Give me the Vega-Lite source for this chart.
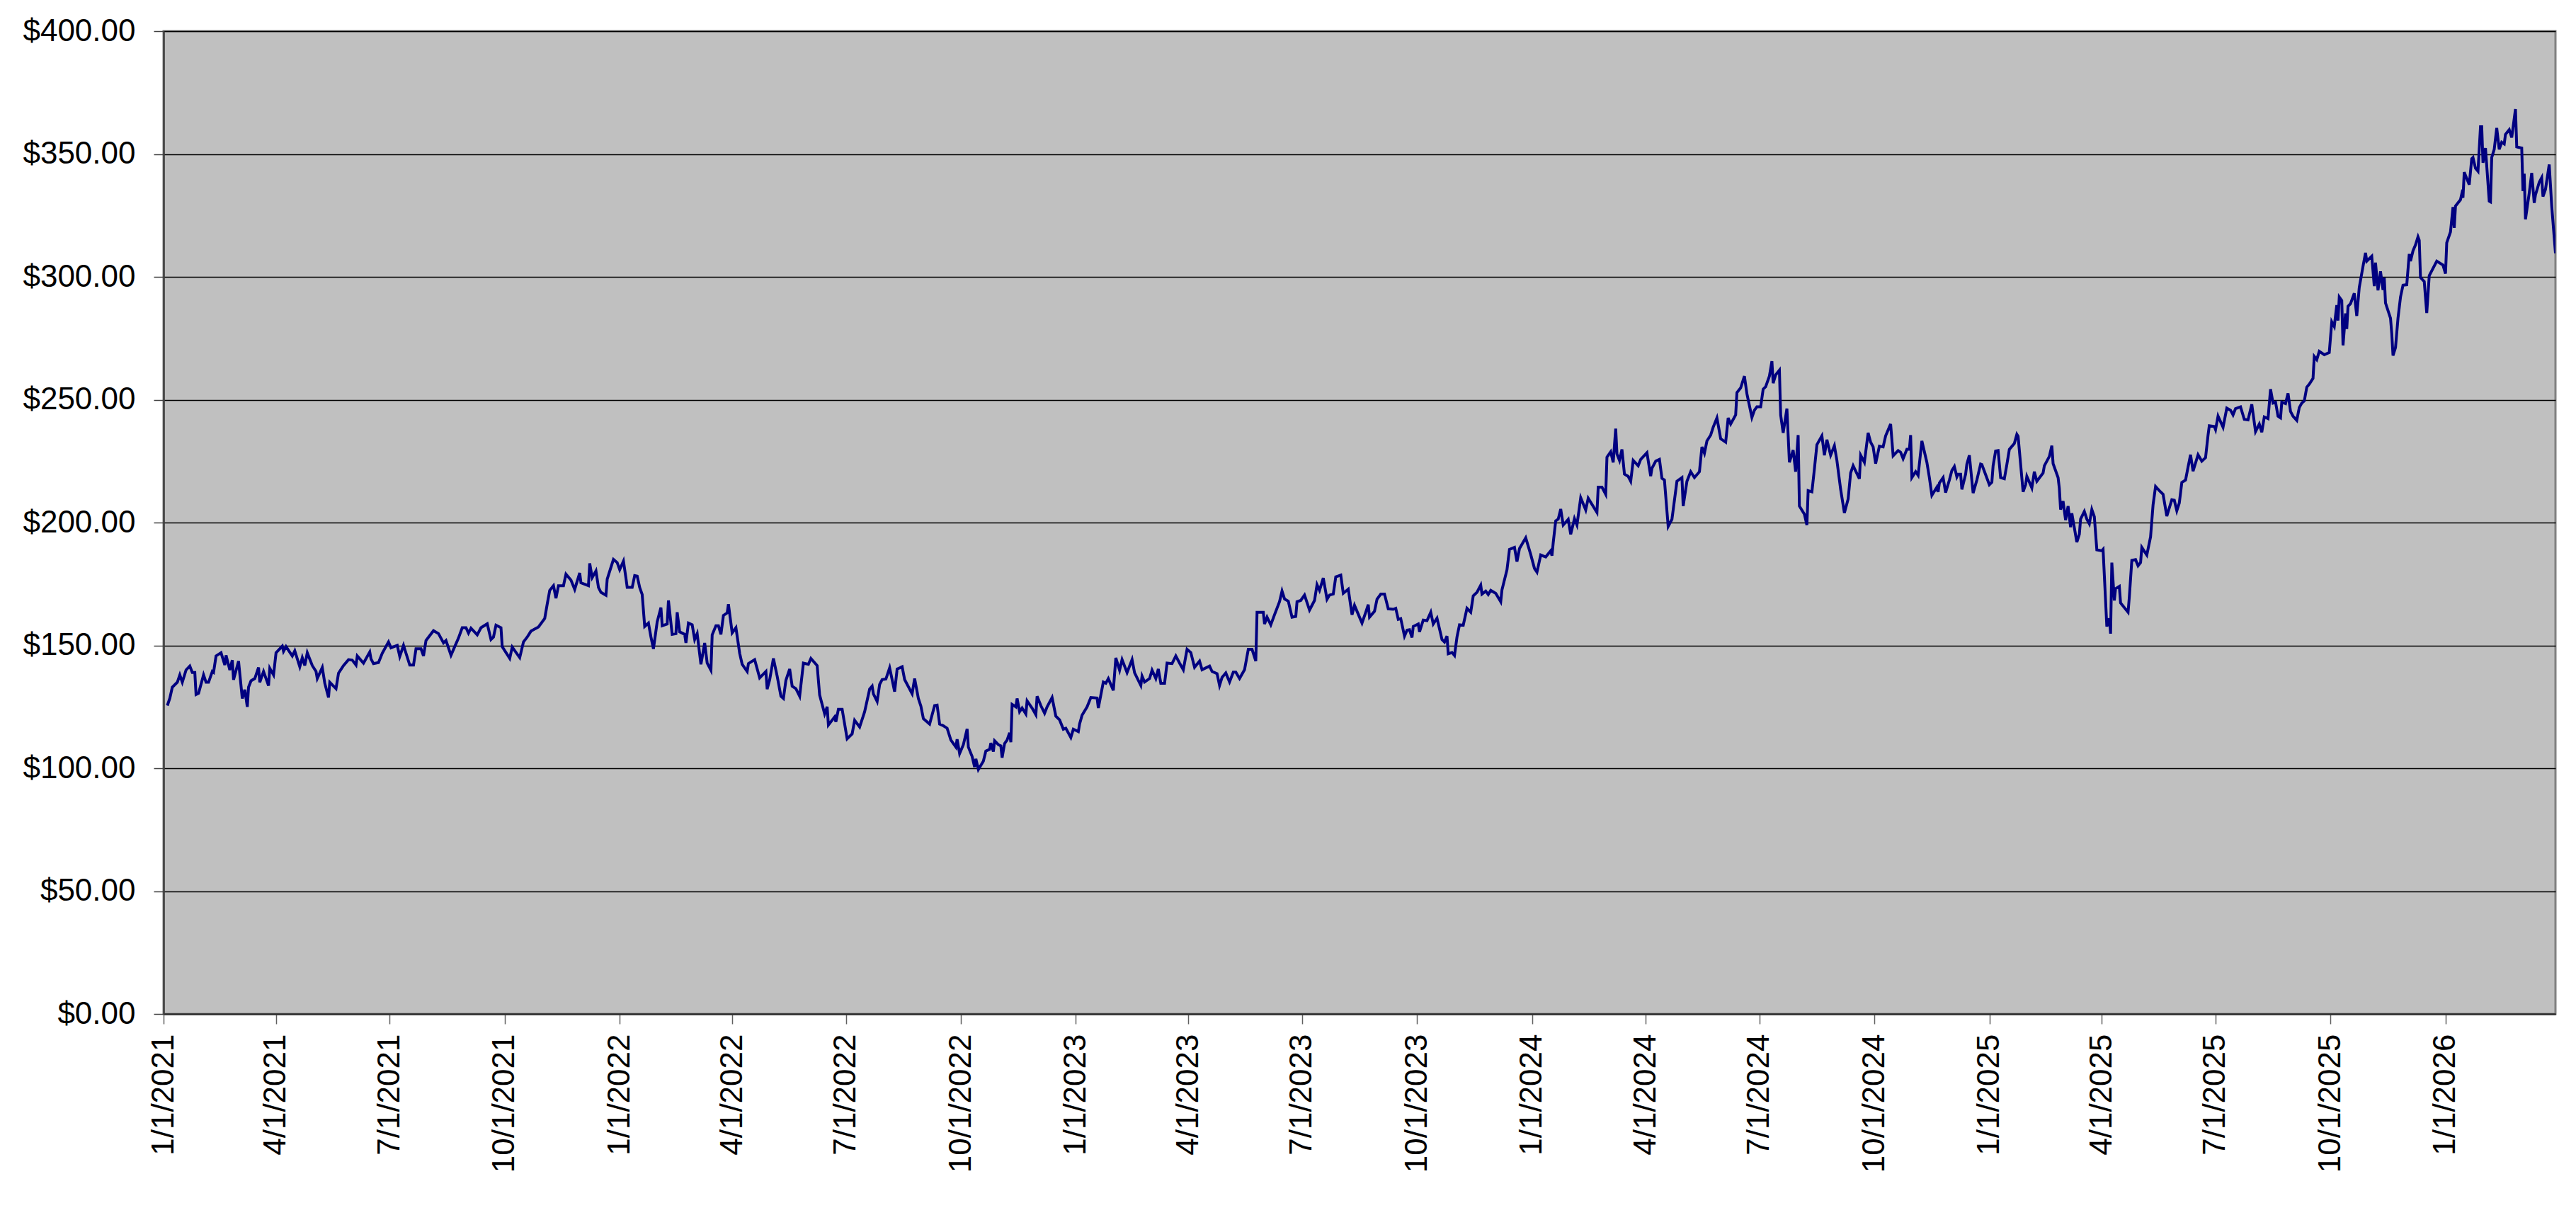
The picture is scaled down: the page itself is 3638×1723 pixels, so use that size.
{
  "$schema": "https://vega.github.io/schema/vega-lite/v6.json",
  "width": 3378,
  "height": 1388,
  "autosize": {"type": "none"},
  "padding": {"left": 231, "top": 44, "right": 29, "bottom": 291},
  "background": "#ffffff",
  "config": {
    "view": {"fill": "#C0C0C0", "stroke": "#808080", "strokeWidth": 3},
    "font": "Liberation Sans",
    "axis": {
      "labelFont": "Liberation Sans",
      "labelFontSize": 44,
      "labelColor": "#000000",
      "labelLimit": 0,
      "title": null
    }
  },
  "data": {
    "values": [
      {"date": "2021-01-04", "close": 125.5},
      {"date": "2021-01-06", "close": 128.5},
      {"date": "2021-01-08", "close": 133},
      {"date": "2021-01-12", "close": 135},
      {"date": "2021-01-14", "close": 138},
      {"date": "2021-01-16", "close": 135},
      {"date": "2021-01-19", "close": 140},
      {"date": "2021-01-22", "close": 141.6},
      {"date": "2021-01-24", "close": 139},
      {"date": "2021-01-26", "close": 139},
      {"date": "2021-01-27", "close": 130},
      {"date": "2021-01-29", "close": 130.5},
      {"date": "2021-02-02", "close": 138},
      {"date": "2021-02-04", "close": 135},
      {"date": "2021-02-06", "close": 135},
      {"date": "2021-02-09", "close": 139.4},
      {"date": "2021-02-10", "close": 139},
      {"date": "2021-02-12", "close": 145.7},
      {"date": "2021-02-16", "close": 147},
      {"date": "2021-02-19", "close": 142},
      {"date": "2021-02-20", "close": 146},
      {"date": "2021-02-23", "close": 140},
      {"date": "2021-02-25", "close": 144},
      {"date": "2021-02-26", "close": 136},
      {"date": "2021-03-02", "close": 143.6},
      {"date": "2021-03-05", "close": 128.4},
      {"date": "2021-03-07", "close": 132},
      {"date": "2021-03-09", "close": 125},
      {"date": "2021-03-10", "close": 133},
      {"date": "2021-03-12", "close": 135.6},
      {"date": "2021-03-15", "close": 136.5},
      {"date": "2021-03-18", "close": 141},
      {"date": "2021-03-19", "close": 135},
      {"date": "2021-03-22", "close": 139.4},
      {"date": "2021-03-26", "close": 133.6},
      {"date": "2021-03-27", "close": 140.7},
      {"date": "2021-03-30", "close": 138},
      {"date": "2021-04-01", "close": 147},
      {"date": "2021-04-06", "close": 149.7},
      {"date": "2021-04-07", "close": 147.6},
      {"date": "2021-04-09", "close": 149.5},
      {"date": "2021-04-14", "close": 145.7},
      {"date": "2021-04-16", "close": 147.8},
      {"date": "2021-04-20", "close": 141.3},
      {"date": "2021-04-22", "close": 145},
      {"date": "2021-04-24", "close": 141.8},
      {"date": "2021-04-26", "close": 147},
      {"date": "2021-04-30", "close": 141.8},
      {"date": "2021-05-03", "close": 139.4},
      {"date": "2021-05-04", "close": 136.5},
      {"date": "2021-05-08", "close": 141},
      {"date": "2021-05-10", "close": 134.6},
      {"date": "2021-05-13", "close": 128.8},
      {"date": "2021-05-14", "close": 135},
      {"date": "2021-05-19", "close": 132.4},
      {"date": "2021-05-21", "close": 138.7},
      {"date": "2021-05-25", "close": 141.8},
      {"date": "2021-05-29", "close": 144.2},
      {"date": "2021-06-01", "close": 144},
      {"date": "2021-06-04", "close": 142},
      {"date": "2021-06-05", "close": 145.7},
      {"date": "2021-06-10", "close": 142.8},
      {"date": "2021-06-15", "close": 147.3},
      {"date": "2021-06-16", "close": 144.5},
      {"date": "2021-06-18", "close": 142.6},
      {"date": "2021-06-22", "close": 143},
      {"date": "2021-06-25", "close": 146.8},
      {"date": "2021-06-30", "close": 151.4},
      {"date": "2021-07-02", "close": 149},
      {"date": "2021-07-07", "close": 150},
      {"date": "2021-07-09", "close": 145.5},
      {"date": "2021-07-12", "close": 150},
      {"date": "2021-07-17", "close": 142},
      {"date": "2021-07-20", "close": 142},
      {"date": "2021-07-22", "close": 148.6},
      {"date": "2021-07-26", "close": 148.6},
      {"date": "2021-07-28", "close": 145.7},
      {"date": "2021-07-30", "close": 152},
      {"date": "2021-08-05", "close": 156},
      {"date": "2021-08-09", "close": 154.8},
      {"date": "2021-08-13", "close": 151},
      {"date": "2021-08-15", "close": 152},
      {"date": "2021-08-19", "close": 146},
      {"date": "2021-08-25", "close": 153},
      {"date": "2021-08-28", "close": 157.2},
      {"date": "2021-08-31", "close": 157.2},
      {"date": "2021-09-02", "close": 155},
      {"date": "2021-09-04", "close": 157},
      {"date": "2021-09-09", "close": 154.3},
      {"date": "2021-09-12", "close": 157.2},
      {"date": "2021-09-17", "close": 158.8},
      {"date": "2021-09-20", "close": 152.4},
      {"date": "2021-09-22", "close": 153.4},
      {"date": "2021-09-24", "close": 158.2},
      {"date": "2021-09-28", "close": 157.2},
      {"date": "2021-09-29", "close": 149.5},
      {"date": "2021-10-05", "close": 144.7},
      {"date": "2021-10-07", "close": 149.3},
      {"date": "2021-10-13", "close": 145},
      {"date": "2021-10-16", "close": 151.4},
      {"date": "2021-10-19", "close": 153.4},
      {"date": "2021-10-22", "close": 155.8},
      {"date": "2021-10-28", "close": 157.5},
      {"date": "2021-11-02", "close": 161},
      {"date": "2021-11-04", "close": 166.8},
      {"date": "2021-11-06", "close": 172.4},
      {"date": "2021-11-09", "close": 174.3},
      {"date": "2021-11-11", "close": 169.2},
      {"date": "2021-11-13", "close": 174.3},
      {"date": "2021-11-17", "close": 174.3},
      {"date": "2021-11-19", "close": 179},
      {"date": "2021-11-23", "close": 176.6},
      {"date": "2021-11-26", "close": 172.8},
      {"date": "2021-11-30", "close": 179.5},
      {"date": "2021-12-01", "close": 175.5},
      {"date": "2021-12-07", "close": 174.3},
      {"date": "2021-12-08", "close": 183.4},
      {"date": "2021-12-10", "close": 177.6},
      {"date": "2021-12-13", "close": 180.3},
      {"date": "2021-12-15", "close": 173.6},
      {"date": "2021-12-17", "close": 171.6},
      {"date": "2021-12-21", "close": 170.4},
      {"date": "2021-12-22", "close": 177},
      {"date": "2021-12-27", "close": 185},
      {"date": "2021-12-30", "close": 183.7},
      {"date": "2022-01-01", "close": 180.8},
      {"date": "2022-01-04", "close": 184.3},
      {"date": "2022-01-06", "close": 177.4},
      {"date": "2022-01-07", "close": 173.6},
      {"date": "2022-01-11", "close": 173.6},
      {"date": "2022-01-13", "close": 178.4},
      {"date": "2022-01-15", "close": 178.2},
      {"date": "2022-01-17", "close": 173.6},
      {"date": "2022-01-19", "close": 170.7},
      {"date": "2022-01-21", "close": 157.7},
      {"date": "2022-01-24", "close": 159.1},
      {"date": "2022-01-26", "close": 153.4},
      {"date": "2022-01-28", "close": 148.6},
      {"date": "2022-01-31", "close": 159.6},
      {"date": "2022-02-03", "close": 165.4},
      {"date": "2022-02-04", "close": 158},
      {"date": "2022-02-08", "close": 158.7},
      {"date": "2022-02-09", "close": 168.3},
      {"date": "2022-02-12", "close": 154.5},
      {"date": "2022-02-15", "close": 154.8},
      {"date": "2022-02-16", "close": 163.5},
      {"date": "2022-02-18", "close": 155.5},
      {"date": "2022-02-22", "close": 154.5},
      {"date": "2022-02-23", "close": 151},
      {"date": "2022-02-25", "close": 159.1},
      {"date": "2022-02-28", "close": 158.4},
      {"date": "2022-03-02", "close": 152.4},
      {"date": "2022-03-04", "close": 154.8},
      {"date": "2022-03-07", "close": 142.3},
      {"date": "2022-03-10", "close": 151},
      {"date": "2022-03-12", "close": 142.8},
      {"date": "2022-03-15", "close": 139.9},
      {"date": "2022-03-16", "close": 154.3},
      {"date": "2022-03-19", "close": 158},
      {"date": "2022-03-21", "close": 158},
      {"date": "2022-03-23", "close": 154.5},
      {"date": "2022-03-25", "close": 162.2},
      {"date": "2022-03-28", "close": 163.2},
      {"date": "2022-03-29", "close": 166.8},
      {"date": "2022-04-01", "close": 155.1},
      {"date": "2022-04-04", "close": 157.2},
      {"date": "2022-04-07", "close": 146.8},
      {"date": "2022-04-09", "close": 142.3},
      {"date": "2022-04-13", "close": 139.4},
      {"date": "2022-04-14", "close": 142.6},
      {"date": "2022-04-19", "close": 144.2},
      {"date": "2022-04-23", "close": 136.8},
      {"date": "2022-04-28", "close": 139.4},
      {"date": "2022-04-29", "close": 132.2},
      {"date": "2022-05-01", "close": 136},
      {"date": "2022-05-04", "close": 144.7},
      {"date": "2022-05-07", "close": 137.5},
      {"date": "2022-05-10", "close": 129.3},
      {"date": "2022-05-12", "close": 128.4},
      {"date": "2022-05-14", "close": 135.8},
      {"date": "2022-05-17", "close": 140.4},
      {"date": "2022-05-19", "close": 133.4},
      {"date": "2022-05-22", "close": 132.4},
      {"date": "2022-05-25", "close": 129.3},
      {"date": "2022-05-28", "close": 142.8},
      {"date": "2022-06-01", "close": 142.3},
      {"date": "2022-06-03", "close": 144.7},
      {"date": "2022-06-08", "close": 141.8},
      {"date": "2022-06-10", "close": 129.8},
      {"date": "2022-06-14", "close": 122.1},
      {"date": "2022-06-16", "close": 125},
      {"date": "2022-06-17", "close": 117.6},
      {"date": "2022-06-22", "close": 120.9},
      {"date": "2022-06-23", "close": 118.9},
      {"date": "2022-06-25", "close": 124},
      {"date": "2022-06-28", "close": 124},
      {"date": "2022-07-02", "close": 112},
      {"date": "2022-07-06", "close": 114},
      {"date": "2022-07-08", "close": 119.5},
      {"date": "2022-07-12", "close": 116.8},
      {"date": "2022-07-16", "close": 123},
      {"date": "2022-07-20", "close": 132.2},
      {"date": "2022-07-22", "close": 133.4},
      {"date": "2022-07-23", "close": 130.3},
      {"date": "2022-07-26", "close": 127.2},
      {"date": "2022-07-28", "close": 134.1},
      {"date": "2022-07-30", "close": 136.1},
      {"date": "2022-08-02", "close": 136.3},
      {"date": "2022-08-05", "close": 140.9},
      {"date": "2022-08-09", "close": 131.2},
      {"date": "2022-08-11", "close": 140.4},
      {"date": "2022-08-15", "close": 141.3},
      {"date": "2022-08-17", "close": 136.1},
      {"date": "2022-08-23", "close": 130.3},
      {"date": "2022-08-25", "close": 136.5},
      {"date": "2022-08-28", "close": 128.4},
      {"date": "2022-08-30", "close": 125.3},
      {"date": "2022-09-01", "close": 120.2},
      {"date": "2022-09-06", "close": 118},
      {"date": "2022-09-10", "close": 125.5},
      {"date": "2022-09-12", "close": 125.7},
      {"date": "2022-09-14", "close": 118},
      {"date": "2022-09-17", "close": 117.3},
      {"date": "2022-09-20", "close": 116.3},
      {"date": "2022-09-23", "close": 111.5},
      {"date": "2022-09-27", "close": 108.6},
      {"date": "2022-09-28", "close": 111.8},
      {"date": "2022-09-30", "close": 106},
      {"date": "2022-10-03", "close": 109.6},
      {"date": "2022-10-06", "close": 116},
      {"date": "2022-10-07", "close": 108.6},
      {"date": "2022-10-10", "close": 104.8},
      {"date": "2022-10-12", "close": 100.5},
      {"date": "2022-10-13", "close": 103.8},
      {"date": "2022-10-15", "close": 99.5},
      {"date": "2022-10-19", "close": 102.9},
      {"date": "2022-10-21", "close": 107},
      {"date": "2022-10-24", "close": 107.7},
      {"date": "2022-10-25", "close": 110.3},
      {"date": "2022-10-27", "close": 106.8},
      {"date": "2022-10-28", "close": 111.2},
      {"date": "2022-10-31", "close": 109.6},
      {"date": "2022-11-02", "close": 109.1},
      {"date": "2022-11-03", "close": 104.3},
      {"date": "2022-11-05", "close": 110.1},
      {"date": "2022-11-07", "close": 111.5},
      {"date": "2022-11-09", "close": 114.4},
      {"date": "2022-11-10", "close": 110.6},
      {"date": "2022-11-11", "close": 126},
      {"date": "2022-11-14", "close": 125},
      {"date": "2022-11-15", "close": 128.4},
      {"date": "2022-11-17", "close": 123},
      {"date": "2022-11-19", "close": 124.5},
      {"date": "2022-11-22", "close": 122.1},
      {"date": "2022-11-23", "close": 127.4},
      {"date": "2022-11-27", "close": 124.5},
      {"date": "2022-11-30", "close": 121.8},
      {"date": "2022-12-01", "close": 129.3},
      {"date": "2022-12-04", "close": 125.5},
      {"date": "2022-12-07", "close": 122.4},
      {"date": "2022-12-09", "close": 125},
      {"date": "2022-12-13", "close": 128.8},
      {"date": "2022-12-16", "close": 121.2},
      {"date": "2022-12-19", "close": 119.7},
      {"date": "2022-12-22", "close": 115.9},
      {"date": "2022-12-24", "close": 116.3},
      {"date": "2022-12-28", "close": 112.5},
      {"date": "2022-12-30", "close": 115.9},
      {"date": "2023-01-01", "close": 115.4},
      {"date": "2023-01-03", "close": 114.9},
      {"date": "2023-01-04", "close": 118},
      {"date": "2023-01-06", "close": 121.6},
      {"date": "2023-01-10", "close": 125},
      {"date": "2023-01-13", "close": 128.8},
      {"date": "2023-01-18", "close": 128.6},
      {"date": "2023-01-19", "close": 124.5},
      {"date": "2023-01-21", "close": 129.8},
      {"date": "2023-01-23", "close": 135.1},
      {"date": "2023-01-25", "close": 134.6},
      {"date": "2023-01-27", "close": 136.5},
      {"date": "2023-01-31", "close": 131.7},
      {"date": "2023-02-02", "close": 144.9},
      {"date": "2023-02-05", "close": 139.9},
      {"date": "2023-02-07", "close": 144.2},
      {"date": "2023-02-11", "close": 138.9},
      {"date": "2023-02-15", "close": 144.2},
      {"date": "2023-02-17", "close": 138.9},
      {"date": "2023-02-22", "close": 133.7},
      {"date": "2023-02-23", "close": 137.5},
      {"date": "2023-02-25", "close": 135.1},
      {"date": "2023-03-01", "close": 136.5},
      {"date": "2023-03-03", "close": 139.9},
      {"date": "2023-03-06", "close": 136.5},
      {"date": "2023-03-08", "close": 140.4},
      {"date": "2023-03-10", "close": 134.6},
      {"date": "2023-03-13", "close": 134.6},
      {"date": "2023-03-15", "close": 142.8},
      {"date": "2023-03-19", "close": 142.6},
      {"date": "2023-03-22", "close": 145.7},
      {"date": "2023-03-25", "close": 142.8},
      {"date": "2023-03-28", "close": 140.1},
      {"date": "2023-03-31", "close": 148.4},
      {"date": "2023-04-03", "close": 147.1},
      {"date": "2023-04-06", "close": 141.1},
      {"date": "2023-04-10", "close": 143.6},
      {"date": "2023-04-12", "close": 140.1},
      {"date": "2023-04-18", "close": 141.6},
      {"date": "2023-04-20", "close": 139.4},
      {"date": "2023-04-24", "close": 138.5},
      {"date": "2023-04-26", "close": 133.7},
      {"date": "2023-04-28", "close": 137},
      {"date": "2023-05-01", "close": 138.8},
      {"date": "2023-05-04", "close": 135.1},
      {"date": "2023-05-07", "close": 139.1},
      {"date": "2023-05-09", "close": 139.1},
      {"date": "2023-05-12", "close": 136.5},
      {"date": "2023-05-16", "close": 140.1},
      {"date": "2023-05-19", "close": 148.4},
      {"date": "2023-05-22", "close": 148.4},
      {"date": "2023-05-25", "close": 143.6},
      {"date": "2023-05-26", "close": 163.5},
      {"date": "2023-05-31", "close": 163.5},
      {"date": "2023-06-01", "close": 158.7},
      {"date": "2023-06-03", "close": 161.5},
      {"date": "2023-06-06", "close": 158.4},
      {"date": "2023-06-09", "close": 162.5},
      {"date": "2023-06-13", "close": 167.8},
      {"date": "2023-06-15", "close": 172.1},
      {"date": "2023-06-17", "close": 168.9},
      {"date": "2023-06-20", "close": 168},
      {"date": "2023-06-23", "close": 161.5},
      {"date": "2023-06-26", "close": 161.8},
      {"date": "2023-06-27", "close": 167.8},
      {"date": "2023-06-30", "close": 168.3},
      {"date": "2023-07-03", "close": 170.5},
      {"date": "2023-07-07", "close": 164.4},
      {"date": "2023-07-11", "close": 168.3},
      {"date": "2023-07-13", "close": 174.7},
      {"date": "2023-07-15", "close": 172.4},
      {"date": "2023-07-18", "close": 177.4},
      {"date": "2023-07-21", "close": 168.8},
      {"date": "2023-07-23", "close": 170.5},
      {"date": "2023-07-26", "close": 170.9},
      {"date": "2023-07-28", "close": 177.9},
      {"date": "2023-08-01", "close": 178.6},
      {"date": "2023-08-03", "close": 171.2},
      {"date": "2023-08-07", "close": 172.9},
      {"date": "2023-08-10", "close": 162.5},
      {"date": "2023-08-12", "close": 166.3},
      {"date": "2023-08-16", "close": 161.5},
      {"date": "2023-08-18", "close": 159.1},
      {"date": "2023-08-21", "close": 163.5},
      {"date": "2023-08-23", "close": 166.6},
      {"date": "2023-08-24", "close": 161.5},
      {"date": "2023-08-28", "close": 163.9},
      {"date": "2023-08-30", "close": 168.8},
      {"date": "2023-09-02", "close": 170.9},
      {"date": "2023-09-05", "close": 170.9},
      {"date": "2023-09-08", "close": 164.9},
      {"date": "2023-09-12", "close": 164.7},
      {"date": "2023-09-14", "close": 165.1},
      {"date": "2023-09-16", "close": 160.6},
      {"date": "2023-09-18", "close": 160.9},
      {"date": "2023-09-21", "close": 153.8},
      {"date": "2023-09-23", "close": 156.2},
      {"date": "2023-09-25", "close": 156.4},
      {"date": "2023-09-27", "close": 153.2},
      {"date": "2023-09-28", "close": 157.7},
      {"date": "2023-10-02", "close": 158.7},
      {"date": "2023-10-03", "close": 155.5},
      {"date": "2023-10-06", "close": 160.3},
      {"date": "2023-10-09", "close": 160.1},
      {"date": "2023-10-12", "close": 163.5},
      {"date": "2023-10-14", "close": 158.7},
      {"date": "2023-10-17", "close": 161.1},
      {"date": "2023-10-21", "close": 152.4},
      {"date": "2023-10-23", "close": 151.4},
      {"date": "2023-10-25", "close": 153.8},
      {"date": "2023-10-26", "close": 146.6},
      {"date": "2023-10-29", "close": 147.1},
      {"date": "2023-10-31", "close": 145.9},
      {"date": "2023-11-02", "close": 153.4},
      {"date": "2023-11-04", "close": 158.4},
      {"date": "2023-11-07", "close": 158.2},
      {"date": "2023-11-10", "close": 165.1},
      {"date": "2023-11-13", "close": 163.5},
      {"date": "2023-11-15", "close": 170.2},
      {"date": "2023-11-18", "close": 171.6},
      {"date": "2023-11-21", "close": 174.5},
      {"date": "2023-11-22", "close": 170.9},
      {"date": "2023-11-25", "close": 172.1},
      {"date": "2023-11-27", "close": 170.7},
      {"date": "2023-11-29", "close": 172.4},
      {"date": "2023-12-03", "close": 171.2},
      {"date": "2023-12-07", "close": 167.8},
      {"date": "2023-12-08", "close": 172.6},
      {"date": "2023-12-12", "close": 180.8},
      {"date": "2023-12-14", "close": 189.1},
      {"date": "2023-12-18", "close": 189.9},
      {"date": "2023-12-20", "close": 184.1},
      {"date": "2023-12-22", "close": 189.4},
      {"date": "2023-12-27", "close": 193.8},
      {"date": "2023-12-31", "close": 187},
      {"date": "2024-01-03", "close": 181.3},
      {"date": "2024-01-05", "close": 179.8},
      {"date": "2024-01-08", "close": 186.8},
      {"date": "2024-01-12", "close": 186},
      {"date": "2024-01-16", "close": 188.5},
      {"date": "2024-01-17", "close": 186.5},
      {"date": "2024-01-18", "close": 191.8},
      {"date": "2024-01-20", "close": 200.7},
      {"date": "2024-01-22", "close": 201.4},
      {"date": "2024-01-24", "close": 205.5},
      {"date": "2024-01-26", "close": 199},
      {"date": "2024-01-30", "close": 201.3},
      {"date": "2024-02-01", "close": 195.2},
      {"date": "2024-02-04", "close": 201.6},
      {"date": "2024-02-06", "close": 199},
      {"date": "2024-02-09", "close": 210.1},
      {"date": "2024-02-13", "close": 205.1},
      {"date": "2024-02-15", "close": 209.9},
      {"date": "2024-02-22", "close": 204.1},
      {"date": "2024-02-23", "close": 214.4},
      {"date": "2024-02-26", "close": 214.4},
      {"date": "2024-02-29", "close": 211.5},
      {"date": "2024-03-01", "close": 226.6},
      {"date": "2024-03-04", "close": 228.8},
      {"date": "2024-03-06", "close": 224.5},
      {"date": "2024-03-08", "close": 238.2},
      {"date": "2024-03-09", "close": 227.9},
      {"date": "2024-03-11", "close": 225.3},
      {"date": "2024-03-13", "close": 229.8},
      {"date": "2024-03-15", "close": 219.7},
      {"date": "2024-03-18", "close": 218.8},
      {"date": "2024-03-20", "close": 216.8},
      {"date": "2024-03-22", "close": 225.3},
      {"date": "2024-03-26", "close": 223.1},
      {"date": "2024-03-28", "close": 225.7},
      {"date": "2024-04-02", "close": 228.4},
      {"date": "2024-04-05", "close": 218.9},
      {"date": "2024-04-06", "close": 222.1},
      {"date": "2024-04-09", "close": 225},
      {"date": "2024-04-12", "close": 225.7},
      {"date": "2024-04-14", "close": 218},
      {"date": "2024-04-16", "close": 217.3},
      {"date": "2024-04-19", "close": 198.4},
      {"date": "2024-04-22", "close": 201.3},
      {"date": "2024-04-26", "close": 216.8},
      {"date": "2024-04-30", "close": 218.3},
      {"date": "2024-05-01", "close": 206.7},
      {"date": "2024-05-04", "close": 216.8},
      {"date": "2024-05-07", "close": 220.7},
      {"date": "2024-05-10", "close": 218.3},
      {"date": "2024-05-14", "close": 220.7},
      {"date": "2024-05-16", "close": 230.8},
      {"date": "2024-05-18", "close": 228.2},
      {"date": "2024-05-20", "close": 233.2},
      {"date": "2024-05-23", "close": 235.6},
      {"date": "2024-05-25", "close": 238.8},
      {"date": "2024-05-28", "close": 242.6},
      {"date": "2024-05-31", "close": 234.1},
      {"date": "2024-06-04", "close": 232.7},
      {"date": "2024-06-06", "close": 242.6},
      {"date": "2024-06-08", "close": 240.1},
      {"date": "2024-06-12", "close": 243.8},
      {"date": "2024-06-13", "close": 252.9},
      {"date": "2024-06-16", "close": 254.8},
      {"date": "2024-06-19", "close": 259.6},
      {"date": "2024-06-21", "close": 252.4},
      {"date": "2024-06-25", "close": 242.8},
      {"date": "2024-06-27", "close": 245.7},
      {"date": "2024-06-29", "close": 247.1},
      {"date": "2024-07-02", "close": 247.1},
      {"date": "2024-07-04", "close": 254.3},
      {"date": "2024-07-06", "close": 255.3},
      {"date": "2024-07-09", "close": 259.6},
      {"date": "2024-07-11", "close": 265.7},
      {"date": "2024-07-12", "close": 256.7},
      {"date": "2024-07-14", "close": 260.1},
      {"date": "2024-07-17", "close": 262},
      {"date": "2024-07-18", "close": 243.8},
      {"date": "2024-07-20", "close": 236.5},
      {"date": "2024-07-23", "close": 246.4},
      {"date": "2024-07-25", "close": 224.5},
      {"date": "2024-07-28", "close": 229.5},
      {"date": "2024-07-30", "close": 220.7},
      {"date": "2024-08-01", "close": 235.6},
      {"date": "2024-08-02", "close": 206.7},
      {"date": "2024-08-06", "close": 203.4},
      {"date": "2024-08-08", "close": 199},
      {"date": "2024-08-09", "close": 213},
      {"date": "2024-08-12", "close": 212.5},
      {"date": "2024-08-14", "close": 221.8},
      {"date": "2024-08-16", "close": 231.7},
      {"date": "2024-08-20", "close": 235.3},
      {"date": "2024-08-22", "close": 227.4},
      {"date": "2024-08-24", "close": 233.7},
      {"date": "2024-08-27", "close": 227.4},
      {"date": "2024-08-30", "close": 231.3},
      {"date": "2024-09-01", "close": 225.3},
      {"date": "2024-09-04", "close": 213.5},
      {"date": "2024-09-07", "close": 203.9},
      {"date": "2024-09-10", "close": 209.6},
      {"date": "2024-09-12", "close": 220.2},
      {"date": "2024-09-14", "close": 223.1},
      {"date": "2024-09-19", "close": 217.8},
      {"date": "2024-09-20", "close": 227.4},
      {"date": "2024-09-23", "close": 224.5},
      {"date": "2024-09-26", "close": 236.5},
      {"date": "2024-09-28", "close": 232.7},
      {"date": "2024-09-30", "close": 230.8},
      {"date": "2024-10-02", "close": 224},
      {"date": "2024-10-05", "close": 231.1},
      {"date": "2024-10-08", "close": 230.8},
      {"date": "2024-10-10", "close": 235.3},
      {"date": "2024-10-14", "close": 240.1},
      {"date": "2024-10-16", "close": 227.2},
      {"date": "2024-10-20", "close": 229.3},
      {"date": "2024-10-22", "close": 228.6},
      {"date": "2024-10-24", "close": 226},
      {"date": "2024-10-27", "close": 229.8},
      {"date": "2024-10-29", "close": 229.8},
      {"date": "2024-10-30", "close": 235.6},
      {"date": "2024-10-31", "close": 218.3},
      {"date": "2024-11-03", "close": 220.7},
      {"date": "2024-11-05", "close": 219.2},
      {"date": "2024-11-08", "close": 233.2},
      {"date": "2024-11-12", "close": 224.5},
      {"date": "2024-11-14", "close": 218.3},
      {"date": "2024-11-16", "close": 211.1},
      {"date": "2024-11-20", "close": 214.4},
      {"date": "2024-11-21", "close": 212.5},
      {"date": "2024-11-22", "close": 216.1},
      {"date": "2024-11-25", "close": 218.3},
      {"date": "2024-11-27", "close": 212.2},
      {"date": "2024-11-30", "close": 217.3},
      {"date": "2024-12-02", "close": 221.2},
      {"date": "2024-12-04", "close": 222.8},
      {"date": "2024-12-06", "close": 218.6},
      {"date": "2024-12-07", "close": 219.7},
      {"date": "2024-12-09", "close": 219.7},
      {"date": "2024-12-10", "close": 213.5},
      {"date": "2024-12-13", "close": 219.7},
      {"date": "2024-12-14", "close": 223.8},
      {"date": "2024-12-16", "close": 227.4},
      {"date": "2024-12-19", "close": 212},
      {"date": "2024-12-22", "close": 217.3},
      {"date": "2024-12-25", "close": 223.8},
      {"date": "2024-12-26", "close": 223.6},
      {"date": "2025-01-01", "close": 215.4},
      {"date": "2025-01-03", "close": 216.4},
      {"date": "2025-01-04", "close": 223.1},
      {"date": "2025-01-06", "close": 229.1},
      {"date": "2025-01-08", "close": 229.3},
      {"date": "2025-01-10", "close": 218.3},
      {"date": "2025-01-13", "close": 217.8},
      {"date": "2025-01-15", "close": 223.6},
      {"date": "2025-01-17", "close": 229.8},
      {"date": "2025-01-21", "close": 232.2},
      {"date": "2025-01-23", "close": 235.9},
      {"date": "2025-01-24", "close": 235.1},
      {"date": "2025-01-28", "close": 212.5},
      {"date": "2025-01-30", "close": 215.4},
      {"date": "2025-01-31", "close": 218.8},
      {"date": "2025-02-04", "close": 214.1},
      {"date": "2025-02-06", "close": 220.7},
      {"date": "2025-02-08", "close": 216.8},
      {"date": "2025-02-13", "close": 220.2},
      {"date": "2025-02-14", "close": 223.1},
      {"date": "2025-02-18", "close": 226.9},
      {"date": "2025-02-20", "close": 231.3},
      {"date": "2025-02-21", "close": 224},
      {"date": "2025-02-25", "close": 218.3},
      {"date": "2025-02-26", "close": 213.9},
      {"date": "2025-02-27", "close": 205.3},
      {"date": "2025-03-01", "close": 208.7},
      {"date": "2025-03-03", "close": 201},
      {"date": "2025-03-05", "close": 206.7},
      {"date": "2025-03-07", "close": 198.1},
      {"date": "2025-03-08", "close": 203.8},
      {"date": "2025-03-12", "close": 192},
      {"date": "2025-03-14", "close": 195.2},
      {"date": "2025-03-15", "close": 201.4},
      {"date": "2025-03-18", "close": 204.5},
      {"date": "2025-03-20", "close": 201.4},
      {"date": "2025-03-22", "close": 199.5},
      {"date": "2025-03-24", "close": 205.3},
      {"date": "2025-03-26", "close": 202.4},
      {"date": "2025-03-28", "close": 188.9},
      {"date": "2025-04-01", "close": 188.5},
      {"date": "2025-04-02", "close": 189.1},
      {"date": "2025-04-05", "close": 157.7},
      {"date": "2025-04-07", "close": 161},
      {"date": "2025-04-08", "close": 154.8},
      {"date": "2025-04-09", "close": 183.7},
      {"date": "2025-04-11", "close": 168.3},
      {"date": "2025-04-12", "close": 173.1},
      {"date": "2025-04-15", "close": 174},
      {"date": "2025-04-16", "close": 167.3},
      {"date": "2025-04-22", "close": 163.5},
      {"date": "2025-04-23", "close": 169.7},
      {"date": "2025-04-25", "close": 184.6},
      {"date": "2025-04-28", "close": 184.9},
      {"date": "2025-04-30", "close": 182.4},
      {"date": "2025-05-02", "close": 183.7},
      {"date": "2025-05-03", "close": 189.9},
      {"date": "2025-05-07", "close": 186.8},
      {"date": "2025-05-10", "close": 194.2},
      {"date": "2025-05-12", "close": 207.2},
      {"date": "2025-05-14", "close": 214.7},
      {"date": "2025-05-17", "close": 213},
      {"date": "2025-05-20", "close": 211.5},
      {"date": "2025-05-23", "close": 202.6},
      {"date": "2025-05-27", "close": 209.3},
      {"date": "2025-05-29", "close": 209.1},
      {"date": "2025-05-31", "close": 204.8},
      {"date": "2025-06-02", "close": 208},
      {"date": "2025-06-04", "close": 216.3},
      {"date": "2025-06-07", "close": 217.3},
      {"date": "2025-06-09", "close": 222.6},
      {"date": "2025-06-11", "close": 227.6},
      {"date": "2025-06-13", "close": 220.9},
      {"date": "2025-06-17", "close": 227.6},
      {"date": "2025-06-20", "close": 225},
      {"date": "2025-06-23", "close": 226.4},
      {"date": "2025-06-25", "close": 235.6},
      {"date": "2025-06-26", "close": 239.4},
      {"date": "2025-06-30", "close": 239.1},
      {"date": "2025-07-01", "close": 237.8},
      {"date": "2025-07-03", "close": 243.3},
      {"date": "2025-07-07", "close": 238.8},
      {"date": "2025-07-10", "close": 246.6},
      {"date": "2025-07-13", "close": 245.7},
      {"date": "2025-07-15", "close": 243.8},
      {"date": "2025-07-17", "close": 246.4},
      {"date": "2025-07-21", "close": 247.1},
      {"date": "2025-07-24", "close": 242},
      {"date": "2025-07-27", "close": 241.8},
      {"date": "2025-07-30", "close": 248.1},
      {"date": "2025-08-02", "close": 237},
      {"date": "2025-08-05", "close": 240.1},
      {"date": "2025-08-07", "close": 236.8},
      {"date": "2025-08-09", "close": 243},
      {"date": "2025-08-12", "close": 242.3},
      {"date": "2025-08-14", "close": 254.3},
      {"date": "2025-08-16", "close": 248.6},
      {"date": "2025-08-18", "close": 249},
      {"date": "2025-08-20", "close": 243.3},
      {"date": "2025-08-22", "close": 242.6},
      {"date": "2025-08-23", "close": 249},
      {"date": "2025-08-26", "close": 248.4},
      {"date": "2025-08-28", "close": 252.6},
      {"date": "2025-08-30", "close": 245.2},
      {"date": "2025-09-01", "close": 243.3},
      {"date": "2025-09-04", "close": 241.6},
      {"date": "2025-09-06", "close": 246.8},
      {"date": "2025-09-08", "close": 248.6},
      {"date": "2025-09-10", "close": 249.5},
      {"date": "2025-09-12", "close": 255.1},
      {"date": "2025-09-14", "close": 256.3},
      {"date": "2025-09-17", "close": 258.7},
      {"date": "2025-09-18", "close": 267.6},
      {"date": "2025-09-20", "close": 266.3},
      {"date": "2025-09-22", "close": 269.7},
      {"date": "2025-09-26", "close": 268.3},
      {"date": "2025-09-30", "close": 269.2},
      {"date": "2025-10-02", "close": 281.7},
      {"date": "2025-10-04", "close": 279.8},
      {"date": "2025-10-06", "close": 288.5},
      {"date": "2025-10-07", "close": 282.2},
      {"date": "2025-10-08", "close": 291.8},
      {"date": "2025-10-10", "close": 290.4},
      {"date": "2025-10-11", "close": 272.1},
      {"date": "2025-10-13", "close": 285.1},
      {"date": "2025-10-14", "close": 278.8},
      {"date": "2025-10-15", "close": 288},
      {"date": "2025-10-17", "close": 289.1},
      {"date": "2025-10-20", "close": 293.3},
      {"date": "2025-10-22", "close": 284.1},
      {"date": "2025-10-24", "close": 295.7},
      {"date": "2025-10-27", "close": 304.3},
      {"date": "2025-10-29", "close": 309.8},
      {"date": "2025-10-30", "close": 306.4},
      {"date": "2025-11-03", "close": 308.4},
      {"date": "2025-11-05", "close": 296.2},
      {"date": "2025-11-06", "close": 305.8},
      {"date": "2025-11-08", "close": 294.5},
      {"date": "2025-11-10", "close": 302.2},
      {"date": "2025-11-12", "close": 294.7},
      {"date": "2025-11-13", "close": 299.7},
      {"date": "2025-11-14", "close": 289.4},
      {"date": "2025-11-18", "close": 283.2},
      {"date": "2025-11-19", "close": 276.9},
      {"date": "2025-11-20", "close": 268},
      {"date": "2025-11-22", "close": 271.2},
      {"date": "2025-11-24", "close": 283.2},
      {"date": "2025-11-26", "close": 291.8},
      {"date": "2025-11-28", "close": 296.6},
      {"date": "2025-12-01", "close": 296.8},
      {"date": "2025-12-03", "close": 309.3},
      {"date": "2025-12-04", "close": 306.4},
      {"date": "2025-12-06", "close": 310.6},
      {"date": "2025-12-08", "close": 313},
      {"date": "2025-12-10", "close": 316.3},
      {"date": "2025-12-11", "close": 314.9},
      {"date": "2025-12-12", "close": 299.7},
      {"date": "2025-12-15", "close": 298.1},
      {"date": "2025-12-17", "close": 285.3},
      {"date": "2025-12-19", "close": 300.5},
      {"date": "2025-12-25", "close": 306.4},
      {"date": "2025-12-30", "close": 304.8},
      {"date": "2026-01-01", "close": 301.3},
      {"date": "2026-01-02", "close": 313.9},
      {"date": "2026-01-05", "close": 318.3},
      {"date": "2026-01-07", "close": 328.4},
      {"date": "2026-01-08", "close": 319.9},
      {"date": "2026-01-09", "close": 328.8},
      {"date": "2026-01-13", "close": 331.4},
      {"date": "2026-01-14", "close": 333.7},
      {"date": "2026-01-15", "close": 332.2},
      {"date": "2026-01-16", "close": 342.6},
      {"date": "2026-01-20", "close": 337.5},
      {"date": "2026-01-22", "close": 348.1},
      {"date": "2026-01-23", "close": 348.6},
      {"date": "2026-01-25", "close": 344.2},
      {"date": "2026-01-27", "close": 343},
      {"date": "2026-01-29", "close": 361.1},
      {"date": "2026-01-30", "close": 361.1},
      {"date": "2026-01-31", "close": 346.4},
      {"date": "2026-02-02", "close": 352.4},
      {"date": "2026-02-05", "close": 330.8},
      {"date": "2026-02-06", "close": 330.5},
      {"date": "2026-02-07", "close": 348.6},
      {"date": "2026-02-09", "close": 351.9},
      {"date": "2026-02-11", "close": 360.6},
      {"date": "2026-02-13", "close": 351.9},
      {"date": "2026-02-15", "close": 354.8},
      {"date": "2026-02-17", "close": 354.1},
      {"date": "2026-02-18", "close": 358},
      {"date": "2026-02-21", "close": 359.9},
      {"date": "2026-02-23", "close": 356.7},
      {"date": "2026-02-26", "close": 368.3},
      {"date": "2026-02-27", "close": 352.9},
      {"date": "2026-03-03", "close": 352.4},
      {"date": "2026-03-04", "close": 334.9},
      {"date": "2026-03-05", "close": 342},
      {"date": "2026-03-06", "close": 323.4},
      {"date": "2026-03-09", "close": 334.1},
      {"date": "2026-03-11", "close": 342.3},
      {"date": "2026-03-13", "close": 330.1},
      {"date": "2026-03-14", "close": 333.4},
      {"date": "2026-03-17", "close": 338.5},
      {"date": "2026-03-19", "close": 340.4},
      {"date": "2026-03-20", "close": 332.7},
      {"date": "2026-03-22", "close": 335.6},
      {"date": "2026-03-25", "close": 345.7},
      {"date": "2026-03-27", "close": 328.8},
      {"date": "2026-03-30", "close": 309.6}
    ]
  },
  "mark": {
    "type": "line",
    "color": "#000080",
    "strokeWidth": 4,
    "clip": true
  },
  "encoding": {
    "x": {
      "field": "date",
      "type": "temporal",
      "scale": {
        "type": "utc",
        "domain": [
          {"year": 2021, "month": 1, "date": 1, "utc": true},
          {"year": 2026, "month": 3, "date": 30, "utc": true}
        ]
      },
      "axis": {
        "values": [
          {"year": 2021, "month": 1, "date": 1, "utc": true},
          {"year": 2021, "month": 4, "date": 1, "utc": true},
          {"year": 2021, "month": 7, "date": 1, "utc": true},
          {"year": 2021, "month": 10, "date": 1, "utc": true},
          {"year": 2022, "month": 1, "date": 1, "utc": true},
          {"year": 2022, "month": 4, "date": 1, "utc": true},
          {"year": 2022, "month": 7, "date": 1, "utc": true},
          {"year": 2022, "month": 10, "date": 1, "utc": true},
          {"year": 2023, "month": 1, "date": 1, "utc": true},
          {"year": 2023, "month": 4, "date": 1, "utc": true},
          {"year": 2023, "month": 7, "date": 1, "utc": true},
          {"year": 2023, "month": 10, "date": 1, "utc": true},
          {"year": 2024, "month": 1, "date": 1, "utc": true},
          {"year": 2024, "month": 4, "date": 1, "utc": true},
          {"year": 2024, "month": 7, "date": 1, "utc": true},
          {"year": 2024, "month": 10, "date": 1, "utc": true},
          {"year": 2025, "month": 1, "date": 1, "utc": true},
          {"year": 2025, "month": 4, "date": 1, "utc": true},
          {"year": 2025, "month": 7, "date": 1, "utc": true},
          {"year": 2025, "month": 10, "date": 1, "utc": true},
          {"year": 2026, "month": 1, "date": 1, "utc": true}
        ],
        "labelExpr": "utcFormat(datum.value, '%-m/%-d/%Y')",
        "labelAngle": 270,
        "labelAlign": "right",
        "labelBaseline": "middle",
        "labelPadding": 14,
        "labelOverlap": false,
        "labelFlush": false,
        "grid": false,
        "domain": true,
        "domainColor": "#303030",
        "domainWidth": 2.5,
        "ticks": true,
        "tickSize": 14,
        "tickColor": "#606060",
        "tickWidth": 1.5
      }
    },
    "y": {
      "field": "close",
      "type": "quantitative",
      "scale": {"domain": [0, 400], "nice": false, "zero": true},
      "axis": {
        "values": [0, 50, 100, 150, 200, 250, 300, 350, 400],
        "format": "$.2f",
        "labelPadding": 26,
        "labelOverlap": false,
        "labelFlush": false,
        "grid": true,
        "gridColor": "#000000",
        "gridWidth": 1.5,
        "domain": true,
        "domainColor": "#404040",
        "domainWidth": 2.5,
        "ticks": true,
        "tickSize": 14,
        "tickColor": "#404040",
        "tickWidth": 1.5
      }
    }
  }
}
